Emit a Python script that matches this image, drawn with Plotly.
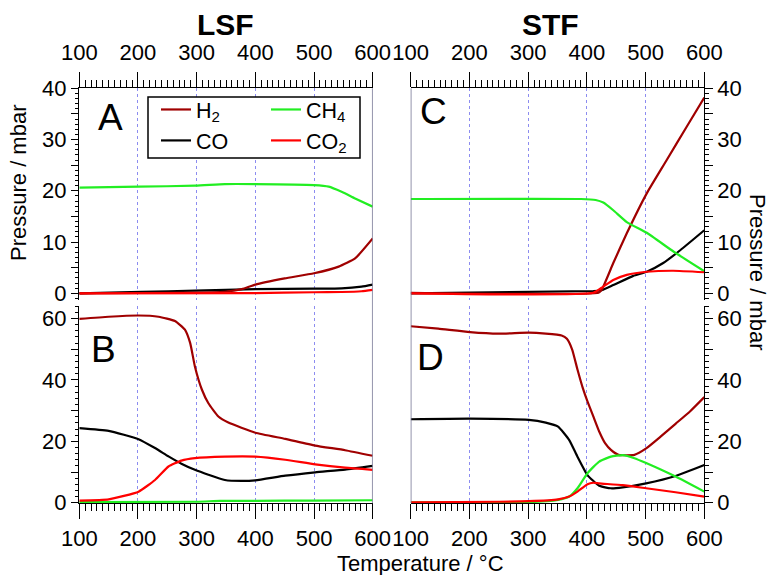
import plotly.graph_objects as go

# ---------------- data (temperature in °C, pressure in mbar) ----------------
# LSF, top panel (A)
A_T_H2 = [100, 348, 377, 400, 450, 500, 542, 570, 600]
A_H2 = [0.0, 0.3, 0.8, 1.7, 2.9, 3.9, 5.2, 6.8, 10.7]
A_T_CO = [100, 206, 298, 400, 500, 547, 581, 600]
A_CO = [0.0, 0.3, 0.5, 0.8, 0.9, 0.95, 1.3, 1.7]
A_T_CH4 = [100, 201, 298, 348, 400, 500, 525, 547, 570, 600]
A_CH4 = [20.6, 20.8, 21.0, 21.3, 21.3, 21.1, 20.8, 19.8, 18.5, 16.9]
A_T_CO2 = [100, 400, 500, 547, 581, 600]
A_CO2 = [0.0, 0.05, 0.2, 0.25, 0.4, 0.65]

# LSF, bottom panel (B)
B_T_H2 = [100, 150, 201, 235, 263, 280, 289, 297, 309, 320, 337, 354, 400, 451, 502, 553, 600]
B_H2 = [59.9, 60.6, 61.0, 60.6, 59.2, 56.4, 52.0, 44.4, 36.8, 32.4, 28.1, 26.1, 22.8, 20.8, 18.6, 17.1, 15.3]
B_T_CO = [100, 150, 201, 229, 252, 274, 297, 320, 348, 377, 400, 451, 502, 553, 600]
B_CO = [24.3, 23.4, 20.7, 17.8, 15.1, 12.7, 10.7, 9.1, 7.4, 7.1, 7.3, 8.8, 9.9, 10.8, 12.0]
B_T_CH4 = [100, 300, 340, 400, 500, 600]
B_CH4 = [0.2, 0.3, 0.6, 0.6, 0.7, 0.8]
B_T_CO2 = [100, 150, 201, 229, 252, 274, 297, 348, 400, 451, 502, 553, 600]
B_CO2 = [0.7, 1.1, 3.6, 7.4, 11.8, 13.7, 14.5, 15.0, 15.0, 14.0, 12.5, 11.4, 10.7]

# STF, top panel (C)
C_T_H2 = [100, 420, 425, 445, 468, 502, 536, 570, 600]
C_H2 = [0.1, 0.1, 0.6, 5.9, 11.7, 19.5, 26.0, 32.5, 38.2]
C_T_CO = [100, 411, 425, 445, 479, 502, 530, 559, 600]
C_CO = [0.0, 0.45, 0.6, 1.6, 3.4, 4.2, 5.9, 8.4, 12.3]
C_T_CH4 = [100, 390, 415, 428, 445, 468, 502, 548, 600]
C_CH4 = [18.4, 18.4, 18.2, 17.7, 16.2, 13.9, 11.8, 8.1, 4.3]
C_T_CO2 = [100, 411, 428, 445, 468, 502, 547, 600]
C_CO2 = [0.0, 0.1, 1.3, 2.6, 3.6, 4.2, 4.4, 4.1]

# STF, bottom panel (D)
D_T_H2 = [100, 147, 201, 250, 301, 330, 357, 366, 375, 384, 393, 401, 411, 421, 431, 441, 454, 481, 501, 526, 551, 576, 600]
D_H2 = [57.5, 56.7, 55.6, 55.1, 55.4, 55.1, 54.5, 53.4, 49.9, 43.4, 37.4, 33.0, 28.1, 23.2, 19.4, 17.2, 15.6, 15.6, 17.7, 21.6, 25.7, 29.8, 34.4]
D_T_CO = [100, 201, 301, 330, 351, 370, 384, 401, 421, 441, 461, 501, 551, 600]
D_CO = [27.2, 27.4, 27.0, 26.1, 24.8, 20.4, 15.0, 9.0, 5.5, 4.7, 5.0, 6.3, 8.7, 12.3]
D_T_CH4 = [100, 301, 351, 370, 384, 401, 421, 441, 461, 481, 501, 551, 600]
D_CH4 = [0.1, 0.2, 0.9, 2.0, 4.7, 9.6, 13.4, 15.0, 15.5, 14.5, 12.9, 8.5, 3.6]
D_T_CO2 = [100, 250, 301, 351, 370, 384, 401, 411, 421, 461, 501, 551, 600]
D_CO2 = [0.1, 0.3, 0.5, 1.1, 2.0, 3.6, 6.0, 6.5, 6.3, 5.7, 4.7, 3.4, 2.0]

SPECIES = ["CO", "H2", "CH4", "CO2"]
LABELS = {"H2": "H<sub>2</sub>", "CO": "CO", "CH4": "CH<sub>4</sub>", "CO2": "CO<sub>2</sub>"}
COLORS = {"H2": "#a00000", "CO": "#000000", "CH4": "#22ee22", "CO2": "#ff0000"}
LEGEND_OF = {"H2": "legend", "CO": "legend", "CH4": "legend2", "CO2": "legend2"}
RANK = {"H2": 1, "CO": 2, "CH4": 1, "CO2": 2}

PANELS = {
    "A": ("x", "y", {"H2": (A_T_H2, A_H2), "CO": (A_T_CO, A_CO), "CH4": (A_T_CH4, A_CH4), "CO2": (A_T_CO2, A_CO2)}),
    "B": ("x2", "y2", {"H2": (B_T_H2, B_H2), "CO": (B_T_CO, B_CO), "CH4": (B_T_CH4, B_CH4), "CO2": (B_T_CO2, B_CO2)}),
    "C": ("x3", "y3", {"H2": (C_T_H2, C_H2), "CO": (C_T_CO, C_CO), "CH4": (C_T_CH4, C_CH4), "CO2": (C_T_CO2, C_CO2)}),
    "D": ("x4", "y4", {"H2": (D_T_H2, D_H2), "CO": (D_T_CO, D_CO), "CH4": (D_T_CH4, D_CH4), "CO2": (D_T_CO2, D_CO2)}),
}

W, H = 774, 575
FONT = "Arial, Liberation Sans, sans-serif"


def fx(p):
    return p / W


def fy(p):
    return 1 - p / H


fig = go.Figure()
for name, (xa, ya, series) in PANELS.items():
    for sp in SPECIES:
        t, v = series[sp]
        fig.add_trace(go.Scatter(
            x=t, y=v, mode="lines", xaxis=xa, yaxis=ya,
            line=dict(color=COLORS[sp], width=2.2, shape="spline", smoothing=0.45),
            name=LABELS[sp], showlegend=(name == "A"),
            legend=LEGEND_OF[sp], legendrank=RANK[sp],
        ))

LEFT = [fx(79.3), fx(372.7)]
RIGHT = [fx(410.7), fx(704.3)]
TOP = [fy(300.2), fy(88.3)]
BOT = [fy(503.3), fy(306)]
TOP_RANGE = [-1.35, 40]
BOT_RANGE = [-0.2, 64.1]

tickfont = dict(family=FONT, size=22, color="black")

X_MAJOR = [100, 200, 300, 400, 500, 600]
X_MID = [150, 250, 350, 450, 550]


def xaxis(domain, anchor, side):
    return dict(
        domain=domain, anchor=anchor, side=side, range=[100, 600],
        tickvals=X_MAJOR, ticks="outside", ticklen=15, tickcolor="black", tickwidth=1,
        minor=dict(dtick=10, ticks="outside", ticklen=7, tickcolor="black", showgrid=False),
        showticklabels=True, tickfont=tickfont, ticklabelstandoff=4 if side == "top" else 0,
        showline=True, linecolor="black", linewidth=1, automargin=False,
        showgrid=True, gridcolor="#8c8cf0", griddash="dot", gridwidth=1, zeroline=False,
    )


def xaxis_mid(overlay, anchor, side):
    return dict(
        overlaying=overlay, anchor=anchor, side=side, range=[100, 600],
        tickvals=X_MID, ticks="outside", ticklen=11, tickcolor="black", automargin=False,
        showticklabels=False, showgrid=False, showline=False, zeroline=False,
    )


def yaxis(domain, anchor, side, rng, major, labelled, minor_dt, ticks="outside", labels=True, overlay=None):
    d = dict(
        domain=domain, anchor=anchor, side=side, range=rng,
        tickvals=major, ticktext=[str(v) if v in labelled else "" for v in major],
        ticks=ticks, ticklen=7.5, tickcolor="black", tickwidth=1,
        minor=dict(dtick=minor_dt, ticks=ticks, ticklen=3.5, tickcolor="black", showgrid=False),
        showticklabels=labels, tickfont=tickfont, automargin=False,
        showline=True, linecolor="black", linewidth=1,
        showgrid=False, zeroline=False,
    )
    if overlay:
        d["overlaying"] = overlay
        d.pop("domain")
    return d


TOP_MAJ = [0, 5, 10, 15, 20, 25, 30, 35, 40]
TOP_LAB = [0, 10, 20, 30, 40]
BOT_MAJ = [0, 10, 20, 30, 40, 50, 60]
BOT_LAB = [0, 20, 40, 60]

legend_style = dict(xanchor="left", yanchor="top", bgcolor="rgba(0,0,0,0)",
                    font=dict(family=FONT, size=21.5, color="black"),
                    tracegroupgap=0, traceorder="normal", borderwidth=0)

layout = dict(
    width=W, height=H, margin=dict(l=0, r=0, t=0, b=0, pad=0, autoexpand=False),
    paper_bgcolor="white", plot_bgcolor="white",
    font=dict(family=FONT, color="black"),
    xaxis=xaxis(LEFT, "y", "top"),
    xaxis2=xaxis(LEFT, "y2", "bottom"),
    xaxis3=xaxis(RIGHT, "y3", "top"),
    xaxis4=xaxis(RIGHT, "y4", "bottom"),
    xaxis5=xaxis_mid("x", "y", "top"),
    xaxis6=xaxis_mid("x2", "y2", "bottom"),
    xaxis7=xaxis_mid("x3", "y3", "top"),
    xaxis8=xaxis_mid("x4", "y4", "bottom"),
    yaxis=yaxis(TOP, "x", "left", TOP_RANGE, TOP_MAJ, TOP_LAB, 1),
    yaxis2=yaxis(BOT, "x2", "left", BOT_RANGE, BOT_MAJ, BOT_LAB, 2),
    yaxis3=yaxis(TOP, "x3", "right", TOP_RANGE, TOP_MAJ, TOP_LAB, 1),
    yaxis4=yaxis(BOT, "x4", "right", BOT_RANGE, BOT_MAJ, BOT_LAB, 2),
    yaxis5=yaxis(TOP, "x", "left", TOP_RANGE, TOP_MAJ, TOP_LAB, 1, "inside", False, "y"),
    yaxis6=yaxis(BOT, "x2", "left", BOT_RANGE, BOT_MAJ, BOT_LAB, 2, "inside", False, "y2"),
    yaxis7=yaxis(TOP, "x3", "right", TOP_RANGE, TOP_MAJ, TOP_LAB, 1, "inside", False, "y3"),
    yaxis8=yaxis(BOT, "x4", "right", BOT_RANGE, BOT_MAJ, BOT_LAB, 2, "inside", False, "y4"),
    legend=dict(x=fx(156), y=fy(89), **legend_style),
    legend2=dict(x=fx(266), y=fy(89), **legend_style),
    showlegend=True,
)
fig.update_layout(**layout)

# legend frame and panel edges
fig.add_shape(type="rect", xref="paper", yref="paper", x0=fx(148), x1=fx(360), y0=fy(158), y1=fy(97),
              line=dict(color="black", width=1.5), fillcolor="white", layer="above")
fig.add_shape(type="line", xref="x", yref="paper", x0=600, x1=600, y0=BOT[0], y1=TOP[1],
              line=dict(color="#707090", width=1.5))
fig.add_shape(type="line", xref="x3", yref="paper", x0=100, x1=100, y0=BOT[0], y1=TOP[1],
              line=dict(color="#707090", width=1.5))

annotations = [
    dict(text="<b>LSF</b>", x=fx(225), y=fy(25), font=dict(size=30)),
    dict(text="<b>STF</b>", x=fx(550), y=fy(25), font=dict(size=30)),
    dict(text="A", x=fx(110), y=fy(118), font=dict(size=37)),
    dict(text="B", x=fx(103), y=fy(349), font=dict(size=37)),
    dict(text="C", x=fx(434), y=fy(112), font=dict(size=37)),
    dict(text="D", x=fx(431), y=fy(357), font=dict(size=37)),
    dict(text="Pressure / mbar", x=fx(18), y=fy(183), textangle=-90, font=dict(size=22)),
    dict(text="Pressure / mbar", x=fx(758), y=fy(272), textangle=90, font=dict(size=22)),
    dict(text="Temperature / °C", x=fx(420), y=fy(563), font=dict(size=22)),
]
for a in annotations:
    a.update(xref="paper", yref="paper", showarrow=False, xanchor="center", yanchor="middle")
    a["font"].update(family=FONT, color="black")
fig.update_layout(annotations=annotations)

fig.write_html("out.html")
